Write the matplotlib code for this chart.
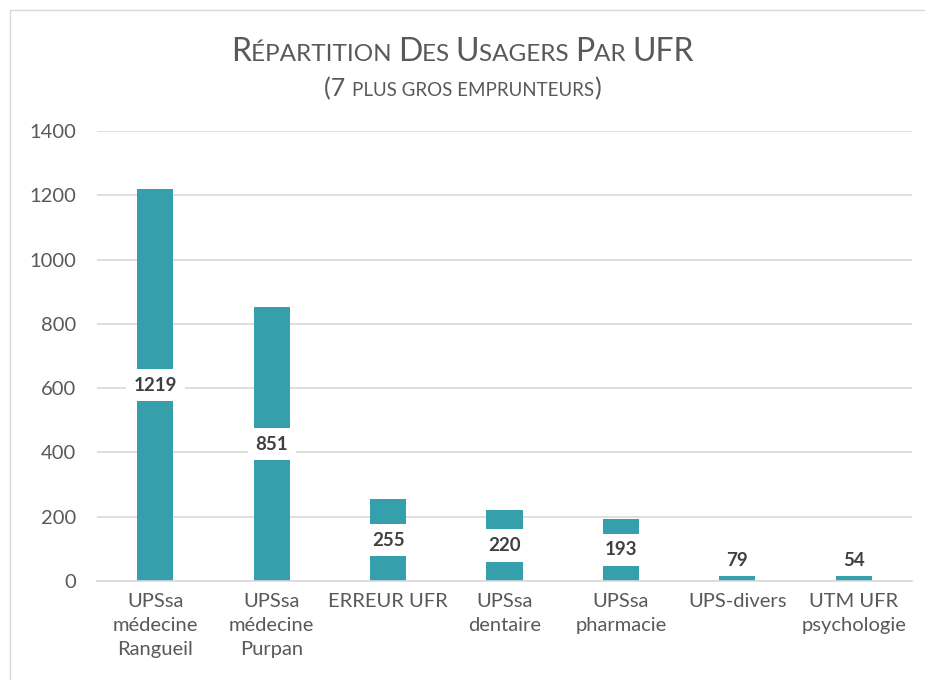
import matplotlib.pyplot as plt
from matplotlib.patches import Rectangle

categories = ['UPSsa\nmédecine\nRangueil', 'UPSsa\nmédecine\nPurpan', 'ERREUR UFR',
              'UPSsa\ndentaire', 'UPSsa\npharmacie', 'UPS-divers', 'UTM UFR\npsychologie']
values = [1219, 851, 255, 220, 193, 79, 54]
yticks = [0, 200, 400, 600, 800, 1000, 1200, 1400]

bar_color = '#35A0AB'
text_color = '#595959'
font = 'Lato'


def small_caps(fig, parts, x, y, big, small):
    # parts: list of (text, is_big); drawn centred on x
    renderer = fig.canvas.get_renderer()
    texts = []
    for s, is_big in parts:
        t = fig.text(0, y, s, fontsize=big if is_big else small, color=text_color,
                     family=font, va='baseline', ha='left')
        texts.append(t)
    widths = [t.get_window_extent(renderer).width for t in texts]
    total = sum(widths)
    fw = fig.get_figwidth() * fig.dpi
    cur = x * fw - total / 2
    for t, w in zip(texts, widths):
        t.set_x(cur / fw)
        cur += w


fig = plt.figure(figsize=(9.25, 6.8), dpi=100)
ax = fig.add_axes([0.1049, 0.1456, 0.8811, 0.6618])

x = range(len(values))
ax.bar(x, values, width=0.31, color=bar_color, zorder=2)
for i, v in enumerate(values):
    ax.text(i, max(v / 2, 65), str(v), ha='center', va='center', fontsize=13.5,
            fontweight='bold', color='#404040', family=font, zorder=3,
            bbox=dict(facecolor='white', edgecolor='none', pad=5.5))

ax.set_ylim(0, 1400)
ax.set_xlim(-0.5, len(values) - 0.5)
ax.set_yticks(yticks)
ax.set_xticks(list(x))
ax.set_xticklabels(categories, linespacing=1.5)
ax.yaxis.grid(True, color='#D9D9D9', linewidth=1.2, zorder=0)
ax.set_axisbelow(True)
for s in ['top', 'right', 'left']:
    ax.spines[s].set_visible(False)
ax.spines['bottom'].set_color('#D9D9D9')
ax.spines['bottom'].set_linewidth(1.2)
ax.tick_params(axis='both', length=0, labelsize=14.5, labelcolor=text_color)
ax.tick_params(axis='y', pad=15)
ax.tick_params(axis='x', pad=9)
for lab in ax.get_xticklabels() + ax.get_yticklabels():
    lab.set_family(font)

fig.patches.append(Rectangle((0.011, -0.01), 0.99, 0.996, transform=fig.transFigure,
                             fill=False, edgecolor='#D9D9D9', linewidth=1))

small_caps(fig, [('R', True), ('ÉPARTITION ', False), ('D', True), ('ES ', False),
                 ('U', True), ('SAGERS ', False), ('P', True), ('AR ', False), ('UFR', True)],
           0.5, 1 - 61 / 680, 23, 17.5)
small_caps(fig, [('(7 ', True), ('PLUS GROS EMPRUNTEURS', False), (')', True)],
           0.5, 1 - 96 / 680, 18, 13.5)

fig.savefig('out.png')
